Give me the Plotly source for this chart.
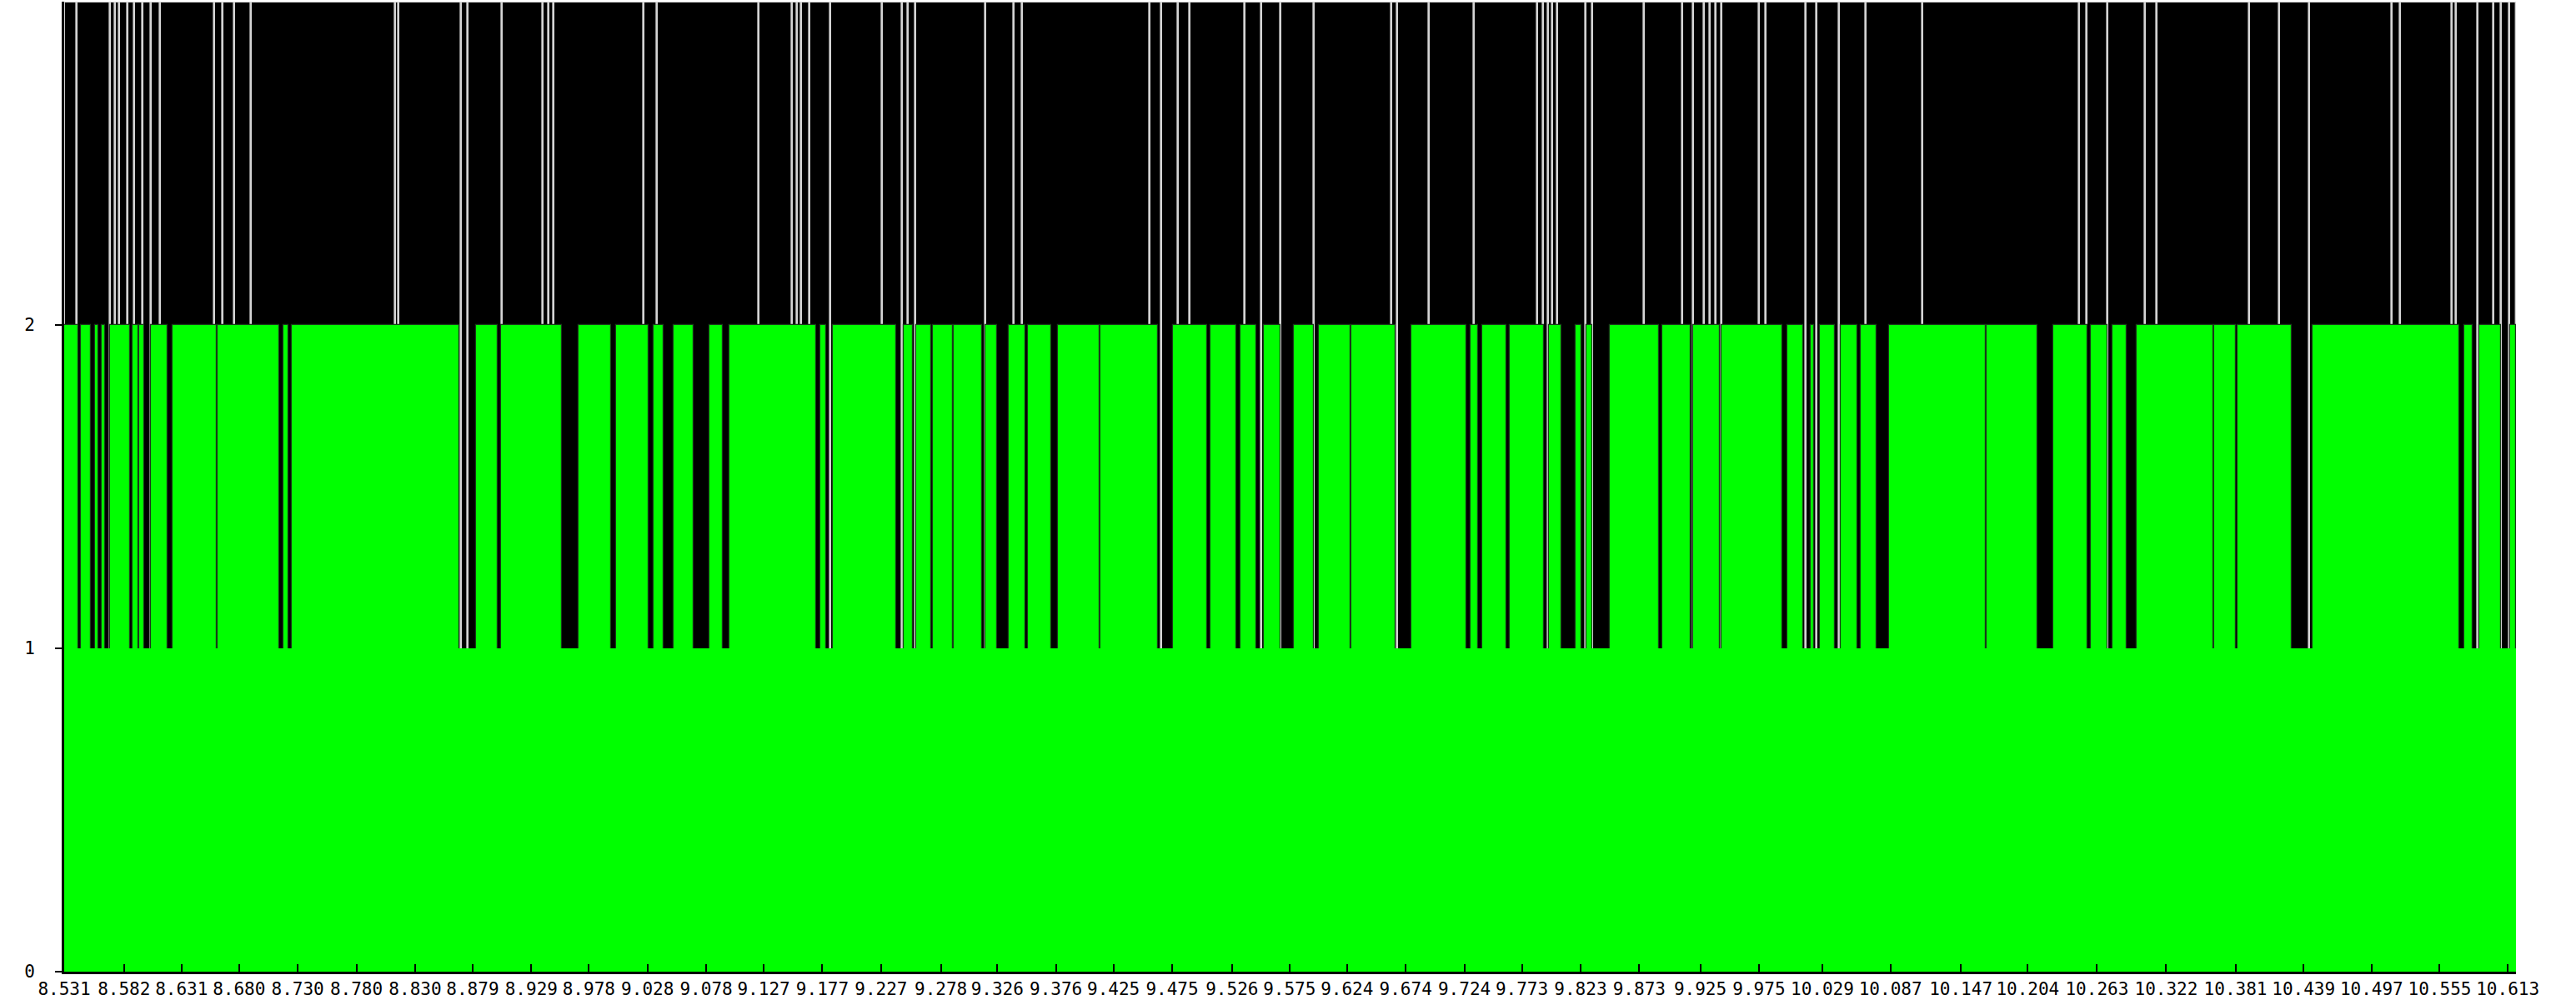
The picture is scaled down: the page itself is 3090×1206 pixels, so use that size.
import plotly.graph_objects as go

# ---------------- data ----------------
x_start = 8.531
x_end = 10.620

tick_values = [8.531, 8.582, 8.631, 8.680, 8.730, 8.780, 8.830, 8.879, 8.929, 8.978,
               9.028, 9.078, 9.127, 9.177, 9.227, 9.278, 9.326, 9.376, 9.425, 9.475,
               9.526, 9.575, 9.624, 9.674, 9.724, 9.773, 9.823, 9.873, 9.925, 9.975,
               10.029, 10.087, 10.147, 10.204, 10.263, 10.322, 10.381, 10.439, 10.497,
               10.555, 10.613]
tick_labels = ["%.3f" % v for v in tick_values]

# boundaries between segments of the upper (black) band
top_breaks = [8.542, 8.570, 8.574, 8.578, 8.585, 8.591, 8.598, 8.605, 8.613, 8.659,
              8.666, 8.676, 8.690, 8.813, 8.816, 8.869, 8.875, 8.904, 8.939, 8.944,
              8.948, 9.025, 9.036, 9.123, 9.151, 9.155, 9.159, 9.166, 9.184, 9.228,
              9.245, 9.250, 9.256, 9.316, 9.340, 9.347, 9.456, 9.466, 9.480, 9.490,
              9.537, 9.551, 9.567, 9.596, 9.662, 9.667, 9.694, 9.732, 9.786, 9.791,
              9.795, 9.799, 9.803, 9.827, 9.833, 9.877, 9.910, 9.919, 9.928, 9.933,
              9.938, 9.943, 9.975, 9.981, 10.015, 10.024, 10.043, 10.066, 10.114, 10.248,
              10.254, 10.272, 10.304, 10.314, 10.393, 10.418, 10.444, 10.514, 10.521, 10.565,
              10.569, 10.587, 10.601, 10.607, 10.614]

# intervals where the middle band (1..2) is black instead of green
mid_black_start = [8.543, 8.554, 8.560, 8.566, 8.587, 8.594, 8.599, 8.619, 8.661, 8.714,
                   8.722, 8.868, 8.900, 8.955, 8.997, 9.029, 9.042, 9.067, 9.092, 9.172,
                   9.180, 9.240, 9.254, 9.270, 9.288, 9.313, 9.326, 9.350, 9.372, 9.413,
                   9.463, 9.505, 9.530, 9.547, 9.567, 9.596, 9.627, 9.665, 9.726, 9.736,
                   9.760, 9.792, 9.807, 9.824, 9.833, 9.890, 9.917, 9.942, 9.995, 10.013,
                   10.022, 10.040, 10.059, 10.075, 10.168, 10.212, 10.255, 10.272, 10.288, 10.362,
                   10.381, 10.429, 10.572, 10.583, 10.607]
mid_black_end = [8.545, 8.557, 8.563, 8.570, 8.589, 8.595, 8.605, 8.623, 8.662, 8.718,
                 8.725, 8.882, 8.903, 8.969, 9.001, 9.033, 9.050, 9.081, 9.098, 9.175,
                 9.186, 9.246, 9.257, 9.271, 9.289, 9.316, 9.336, 9.352, 9.378, 9.414,
                 9.476, 9.508, 9.533, 9.553, 9.579, 9.600, 9.628, 9.679, 9.729, 9.739,
                 9.763, 9.796, 9.819, 9.828, 9.848, 9.893, 9.919, 9.943, 9.999, 10.019,
                 10.027, 10.045, 10.062, 10.086, 10.169, 10.226, 10.258, 10.276, 10.297, 10.363,
                 10.383, 10.447, 10.576, 10.589, 10.615]

# ---------------- build segments ----------------
edges = [x_start] + top_breaks + [x_end]
top_x = [(a + b) / 2 for a, b in zip(edges[:-1], edges[1:])]
top_w = [b - a for a, b in zip(edges[:-1], edges[1:])]

green_lo, green_hi = [], []
cur = x_start
for s, e in zip(mid_black_start, mid_black_end):
    if s > cur:
        green_lo.append(cur)
        green_hi.append(s)
    cur = max(cur, e)
if cur < x_end:
    green_lo.append(cur)
    green_hi.append(x_end)
mid_x = [(a + b) / 2 for a, b in zip(green_lo, green_hi)]
mid_w = [b - a for a, b in zip(green_lo, green_hi)]

fig = go.Figure()
# upper band: black segments with light outlines
fig.add_trace(go.Bar(
    x=top_x, y=[3] * len(top_x), width=top_w, base=0,
    marker=dict(color="#000000", line=dict(color="#d4d4d4", width=2.4)),
    hoverinfo="skip", showlegend=False))
# middle band green segments (dark outline)
fig.add_trace(go.Bar(
    x=mid_x, y=[2] * len(mid_x), width=mid_w, base=0,
    marker=dict(color="#00ff00", line=dict(color="#1a3a1a", width=1.2)),
    hoverinfo="skip", showlegend=False))
# lower band: solid green
fig.add_trace(go.Bar(
    x=[(x_start + x_end) / 2], y=[1.0], width=[x_end - x_start], base=0,
    marker=dict(color="#00ff00", line=dict(width=0)),
    hoverinfo="skip", showlegend=False))

fig.update_layout(
    width=3090, height=1206,
    margin=dict(l=77, r=72, t=2, b=40),
    barmode="overlay", bargap=0,
    paper_bgcolor="white", plot_bgcolor="white",
    font=dict(family="DejaVu Sans Mono", size=21, color="black"),
    xaxis=dict(range=[x_start, x_end], tickmode="array", tickvals=tick_values,
               ticktext=tick_labels, ticks="inside", ticklen=9, tickwidth=2,
               tickcolor="black", showline=True, linecolor="black", linewidth=3,
               showgrid=False, zeroline=False, tickfont=dict(size=21)),
    yaxis=dict(range=[0, 3], tickmode="array", tickvals=[0, 1, 2], ticktext=["0", "1", "2"],
               ticks="outside", ticklen=8, tickwidth=2, tickcolor="black",
               showline=True, linecolor="black", linewidth=3, showgrid=False,
               zeroline=False, ticklabelstandoff=20, tickfont=dict(size=21)),
)

fig.write_html("out.html")
